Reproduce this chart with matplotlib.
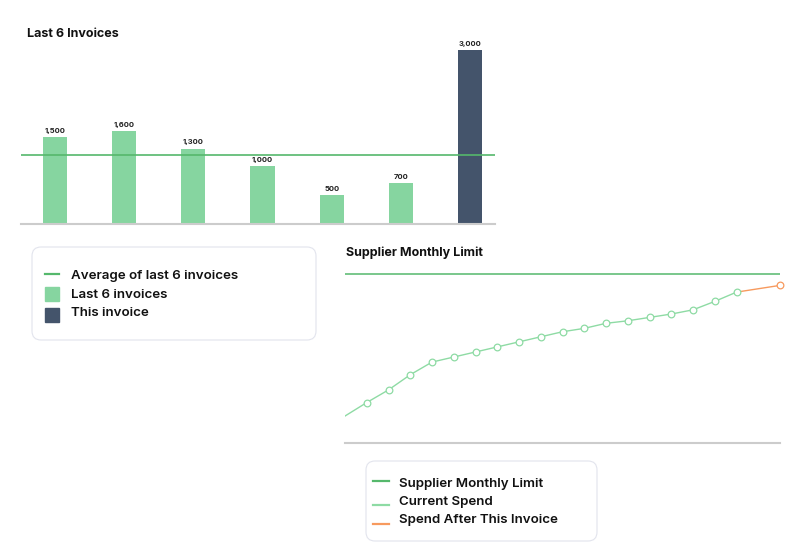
import matplotlib
matplotlib.use('Agg')
import matplotlib.pyplot as plt
from matplotlib.patches import FancyBboxPatch, Rectangle
from matplotlib.lines import Line2D

plt.rcParams['font.family'] = ['Inter', 'DejaVu Sans']

# data
invoice_labels = ['1', '2', '3', '4', '5', '6', 'This']
invoice_values = [1500, 1600, 1300, 1000, 500, 700, 3000]
avg_value = 1200

spend_current = [1600, 2400, 3150, 4050, 4800, 5100, 5400, 5700, 6000, 6300,
                 6600, 6800, 7100, 7250, 7450, 7650, 7900, 8400, 8950]
spend_after = [8950, 9350]
monthly_limit = 10000

GREEN_BAR = '#86d5a0'
DARK_BAR = '#44546b'
AVG_GREEN = '#55b86c'
LINE_GREEN = '#8edba4'
ORANGE = '#f79a5e'
GRID_GRAY = '#cccccc'

W, H = 800, 550
fig = plt.figure(figsize=(8, 5.5), dpi=100)


def px_axes(left, top, right, bottom):
    return fig.add_axes([left / W, 1 - bottom / H, (right - left) / W, (bottom - top) / H])


# bar chart
ax1 = px_axes(21, 40, 495, 224)
xs = list(range(len(invoice_values)))
colors = [GREEN_BAR] * 6 + [DARK_BAR]
ax1.bar(xs, invoice_values, width=0.35, color=colors, zorder=2)
ax1.axhline(avg_value, color=AVG_GREEN, lw=1.2, zorder=3)
for x, v in zip(xs, invoice_values):
    ax1.text(x, v + 60, f'{v:,}', ha='center', va='bottom', fontsize=5.5,
             fontweight='bold', color='#222222')
ax1.set_xlim(-0.49, 6.36)
ax1.set_ylim(0, 3180)
for s in ['top', 'right', 'left']:
    ax1.spines[s].set_visible(False)
ax1.spines['bottom'].set_color(GRID_GRAY)
ax1.spines['bottom'].set_linewidth(1.5)
ax1.set_xticks([])
ax1.set_yticks([])
fig.text(27 / W, 1 - 34 / H, 'Last 6 Invoices', fontsize=9, fontweight='bold',
         va='center', ha='left', color='#111111')

# line chart
ax2 = px_axes(345, 266, 780, 443)
idx = list(range(len(spend_current)))
ax2.axhline(monthly_limit, color=AVG_GREEN, lw=1.1, zorder=2)
ax2.plot(idx, spend_current, color=LINE_GREEN, lw=1.0, zorder=3)
ax2.plot(idx[1:], spend_current[1:], ls='none', marker='o', ms=4.8, mfc='white',
         mec=LINE_GREEN, mew=0.9, zorder=4, clip_on=False)
after_idx = [len(spend_current) - 1, len(spend_current) + 1]
ax2.plot(after_idx, spend_after, color=ORANGE, lw=1.0, zorder=3)
ax2.plot(after_idx[-1:], spend_after[-1:], ls='none', marker='o', ms=4.8, mfc='white',
         mec=ORANGE, mew=0.9, zorder=4, clip_on=False)
ax2.set_xlim(0, 20)
ax2.set_ylim(0, 10500)
for s in ['top', 'right', 'left']:
    ax2.spines[s].set_visible(False)
ax2.spines['bottom'].set_color(GRID_GRAY)
ax2.spines['bottom'].set_linewidth(1.5)
ax2.set_xticks([])
ax2.set_yticks([])
fig.text(346 / W, 1 - 253 / H, 'Supplier Monthly Limit', fontsize=9, fontweight='bold',
         va='center', ha='left', color='#111111')

# legends drawn in pixel space
ov = fig.add_axes([0, 0, 1, 1], zorder=-1)
ov.set_xlim(0, W)
ov.set_ylim(H, 0)
ov.axis('off')


def box(x0, y0, x1, y1):
    ov.add_patch(FancyBboxPatch((x0, y0), x1 - x0, y1 - y0,
                                boxstyle='round,pad=0,rounding_size=9',
                                fc='white', ec='#e2e4ed', lw=0.8))


def label(x, y, s):
    ov.text(x, y + 1.5, s, fontsize=9.6, fontweight='semibold', va='center', ha='left',
            color='#111111')


box(32, 247, 316, 340)
ov.add_line(Line2D([45, 59], [274, 274], color=AVG_GREEN, lw=1.6))
ov.add_patch(Rectangle((45, 287), 14, 14, color=GREEN_BAR))
ov.add_patch(Rectangle((45, 308), 14, 14, color=DARK_BAR))
label(71, 274, 'Average of last 6 invoices')
label(71, 293, 'Last 6 invoices')
label(71, 311, 'This invoice')

box(366, 461, 597, 541)
ov.add_line(Line2D([373, 389], [481, 481], color=AVG_GREEN, lw=1.6))
ov.add_line(Line2D([373, 389], [505, 505], color=LINE_GREEN, lw=1.6))
ov.add_line(Line2D([373, 389], [524, 524], color=ORANGE, lw=1.6))
label(399, 482, 'Supplier Monthly Limit')
label(399, 500, 'Current Spend')
label(399, 518, 'Spend After This Invoice')

fig.savefig('out.png', dpi=100)
